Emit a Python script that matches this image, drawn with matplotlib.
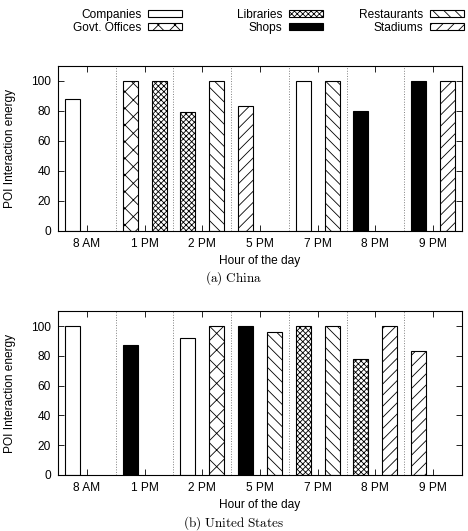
import numpy as np
import matplotlib as mpl
import matplotlib.pyplot as plt
from matplotlib.patches import Patch

mpl.rcParams['font.family'] = ['Liberation Sans', 'DejaVu Sans']
mpl.rcParams['mathtext.fontset'] = 'cm'
mpl.rcParams['hatch.linewidth'] = 0.6
mpl.rcParams['font.size'] = 8.6

hours = ['8 AM', '1 PM', '2 PM', '5 PM', '7 PM', '8 PM', '9 PM']
categories = ['Companies', 'Govt. Offices', 'Libraries', 'Shops', 'Restaurants', 'Stadiums']

# China: (left bar, right bar) per hour
china_left_cat = ['Companies', 'Govt. Offices', 'Libraries', 'Stadiums', 'Companies', 'Shops', 'Shops']
china_left_val = [88, 100, 79, 83, 100, 80, 100]
china_right_cat = [None, 'Libraries', 'Restaurants', None, 'Restaurants', None, 'Stadiums']
china_right_val = [None, 100, 100, None, 100, None, 100]

# United States
us_left_cat = ['Companies', 'Shops', 'Companies', 'Shops', 'Libraries', 'Libraries', 'Stadiums']
us_left_val = [100, 87, 92, 100, 100, 78, 83]
us_right_cat = [None, None, 'Govt. Offices', 'Restaurants', 'Restaurants', 'Stadiums', None]
us_right_val = [None, None, 100, 96, 100, 100, None]

# look of each category
style = {
    'Companies': dict(facecolor='white', hatch=None),
    'Govt. Offices': dict(facecolor='white', hatch='xx'),
    'Libraries': dict(facecolor='white', hatch='xxxxxx'),
    'Shops': dict(facecolor='black', hatch=None),
    'Restaurants': dict(facecolor='white', hatch='\\\\\\'),
    'Stadiums': dict(facecolor='white', hatch='///'),
}

fig = plt.figure(figsize=(4.68, 5.31), dpi=100)


def draw(ax, lc, lv, rc, rv, caption, cap_y):
    x = np.arange(len(hours))
    w = 0.26
    for i in range(len(hours)):
        if lc[i] is not None:
            ax.bar(x[i] - 0.25, lv[i], w, edgecolor='black', linewidth=0.8, **style[lc[i]])
        if rc[i] is not None:
            ax.bar(x[i] + 0.25, rv[i], w, edgecolor='black', linewidth=0.8, **style[rc[i]])
    for b in np.arange(0.5, len(hours) - 1, 1.0):
        ax.axvline(b, color='gray', linestyle=':', linewidth=0.7)
    ax.set_xlim(-0.5, len(hours) - 0.5)
    ax.set_ylim(0, 110)
    ax.set_xticks(x)
    ax.set_xticklabels(hours)
    ax.set_yticks([0, 20, 40, 60, 80, 100])
    ax.tick_params(direction='in', top=True, right=True, length=4, width=0.6, pad=5)
    for s in ax.spines.values():
        s.set_linewidth(0.8)
    ax.set_xlabel('Hour of the day', labelpad=4)
    ax.set_ylabel('POI Interaction energy', labelpad=11)
    fig.text(0.5, cap_y, caption, ha='center', va='center', fontsize=9.5)


ax1 = fig.add_axes([0.124, 0.565, 0.863, 0.311])
draw(ax1, china_left_cat, china_left_val, china_right_cat, china_right_val,
     r'$\mathrm{(a)\ China}$', 1 - 278 / 531)
ax2 = fig.add_axes([0.124, 0.1055, 0.863, 0.3085])
draw(ax2, us_left_cat, us_left_val, us_right_cat, us_right_val,
     r'$\mathrm{(b)\ United\ States}$', 1 - 523 / 531)

# one legend per column, text right-aligned before the swatch
for j, xr in enumerate([182, 323, 464]):
    handles = [Patch(edgecolor='black', linewidth=0.8, label=c, **style[c])
               for c in categories[2 * j:2 * j + 2]]
    fig.legend(handles=handles, loc='upper right', bbox_to_anchor=(xr / 468, 1 - 9 / 531),
               frameon=False, markerfirst=False, handlelength=2.85, handleheight=0.55,
               labelspacing=0.05, handletextpad=0.55, borderpad=0, borderaxespad=0,
               fontsize=8.6)

fig.savefig('out.png', dpi=100)
